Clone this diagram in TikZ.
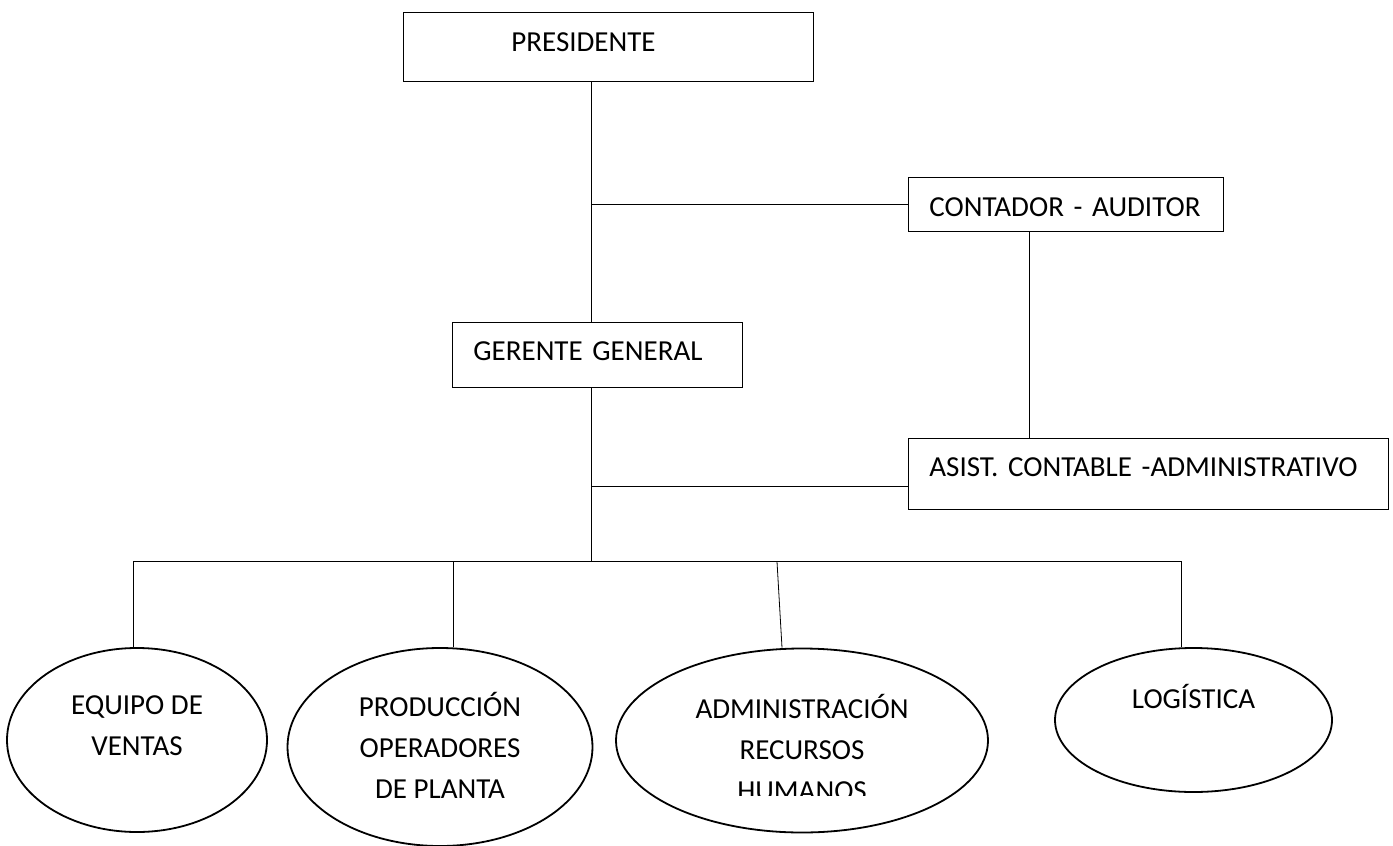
\documentclass[tikz,border=0pt]{standalone}
\usepackage{fontspec}
\setmainfont{Carlito}
\usetikzlibrary{shapes.geometric}
\tikzset{
x=0.5pt, y=-0.5pt, % one unit is one pixel of the chart, counted from the top
line width=1pt,
every node/.style={font=\fontsize{14.5}{20.5}\selectfont}, % text of all the nodes
caja/.style={draw, rectangle, anchor=north west, inner xsep=10.5pt, inner ysep=0pt}, % the boxes, text on top
ovalo/.style={draw, ellipse, inner sep=0pt, line width=0.9pt}, % the areas at the bottom
rotulo/.style={align=center, inner sep=0pt}, % text inside the areas
}
\begin{document}
\begin{tikzpicture}
    \useasboundingbox (0,0) rectangle (1393,846);

    \node[caja, text width=184pt, text height=19.5pt, text depth=15pt] (presidente) at (403,12) {\hspace*{43.5pt}PRESIDENTE};
    \node[caja, text width=136.5pt, text height=19.5pt, text depth=7.5pt] (contador) at (908,177) {CONTADOR - AUDITOR};
    \node[caja, text width=124pt, text height=19pt, text depth=13.5pt] (gerente) at (452,322) {GERENTE GENERAL};
    \node[caja, text width=219pt, text height=19pt, text depth=16.5pt] (asistente) at (908,438) {ASIST. CONTABLE -ADMINISTRATIVO};

    \node[ovalo, minimum width=130pt, minimum height=92pt] (ventas) at (137,740) {};
    \node[ovalo, minimum width=152.5pt, minimum height=99pt] (produccion) at (440,747) {};
    \node[ovalo, minimum width=186pt, minimum height=92pt] (admin) at (802,740.5) {};
    \node[ovalo, minimum width=138.5pt, minimum height=72pt] (logistica) at (1193.5,720) {};

    \node[rotulo] (ventas-txt) at (137,725.5) {EQUIPO DE\\VENTAS};
    \node[rotulo] (produccion-txt) at (440,745.5) {PRODUCCIÓN\\OPERADORES\\DE PLANTA};
    \begin{scope}
        \clip (600,640) rectangle (1000,795);
        \node[rotulo] (admin-txt) at (802,747.5) {ADMINISTRACIÓN\\RECURSOS\\HUMANOS};
    \end{scope}
    \node[rotulo] (logistica-txt) at (1193.5,696.5) {LOGÍSTICA};

    % trunk
    \draw ([xshift=94pt]presidente.south west) coordinate (p-s) -- (p-s |- gerente.north);
    \draw (contador.west) -- (contador.west -| p-s);
    \draw ([xshift=60.5pt]contador.south west) -- ([xshift=60.5pt]asistente.north west);

    % drops to the areas
    \foreach \n/\dx/\sl in {ventas/-2/0, produccion/6.5/0, admin/-10/-5, logistica/-6.25/0}
        \draw ([xshift=\dx pt]\n.north) -- ++(\sl,-86) coordinate (\n-top);
    \draw (ventas-top) -- (logistica-top);

    \draw ([xshift=69.5pt]gerente.south west) coordinate (g-s) -- (g-s |- ventas-top);
    \draw ([yshift=-6.25pt]asistente.west) coordinate (a-w) -- (a-w -| g-s);
\end{tikzpicture}
\end{document}
